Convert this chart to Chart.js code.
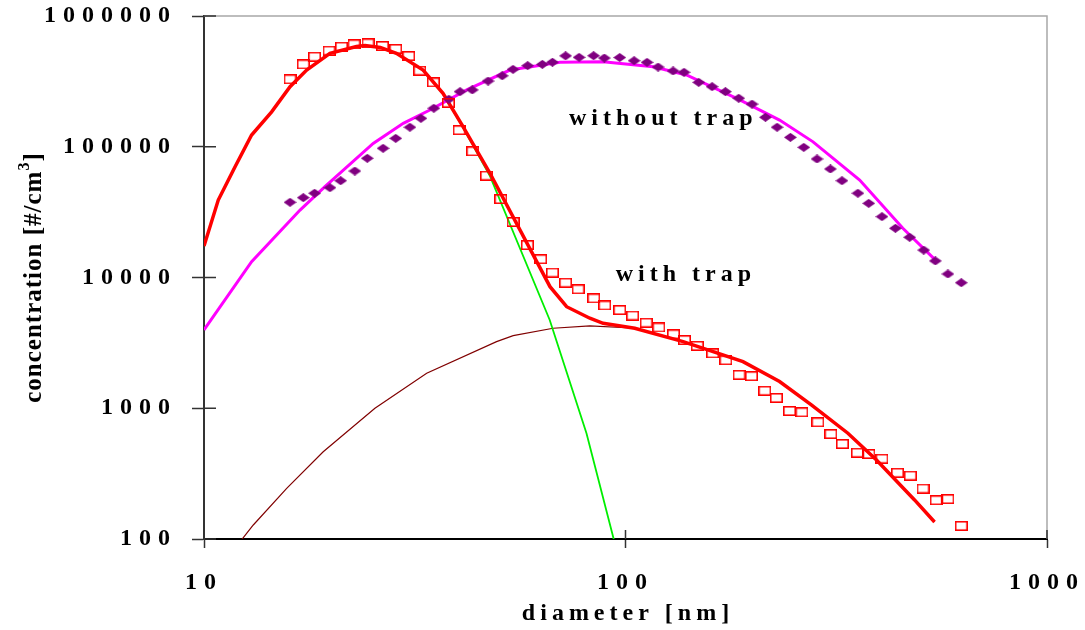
<!DOCTYPE html>
<html>
<head>
<meta charset="utf-8">
<script src="https://cdn.jsdelivr.net/npm/chart.js@4.4.1/dist/chart.umd.min.js"></script>
<style>
  body { margin: 0; background: #fff; }
  #wrap { width: 1085px; height: 630px; position: relative; }
</style>
</head>
<body>
<div id="wrap"><canvas id="myChart"></canvas></div>
<script>
// measured, with trap (open squares)
var sqX = [16.0, 17.2, 18.3, 19.8, 21.2, 22.7, 24.5, 26.5, 28.5, 30.6, 32.5, 35.0, 38.0, 40.3, 43.4,
  46.8, 50.6, 54.1, 58.5, 62.9, 67.1, 72.1, 77.2, 84.1, 89.3, 96.9, 104, 112, 120, 130,
  138, 148, 161, 173, 186, 199, 214, 228, 245, 262, 286, 307, 327, 355, 378, 406, 442, 474, 508, 546, 582, 626];
var sqY = [328000, 427000, 488000, 543000, 582000, 608000, 618000, 590000, 560000, 494000, 382000, 311000, 217000, 134000, 92300,
  60100, 39800, 26600, 17700, 13800, 10900, 9120, 8130, 6930, 6110, 5640, 5110, 4510, 4150, 3680,
  3320, 3000, 2630, 2330, 1800, 1760, 1360, 1200, 953, 931, 781, 635, 533, 457, 447, 411, 321, 305, 243, 198, 202, 126];

// measured, without trap (diamonds)
var dmX = [16.0, 17.2, 18.3, 19.9, 21.1, 22.8, 24.4, 26.6, 28.5, 30.8, 32.7, 35.1, 38.1, 40.5, 43.3,
  47.2, 51.0, 54.1, 58.6, 63.5, 67.1, 72.1, 77.6, 84.0, 89.1, 96.9, 104.8, 112.5, 119.5, 129.7,
  137.7, 149.2, 160.5, 172.6, 185.6, 199.6, 214.8, 228.9, 246.2, 264.8, 284.7, 306.3, 326.3, 356, 377.6,
  406, 436.8, 472.3, 510, 543.4, 582, 626];
var dmY = [37600, 40800, 44100, 48600, 55000, 65200, 81600, 97300, 116000, 141000, 165000, 197000, 231000, 264000, 272000,
  318000, 349000, 391000, 417000, 427000, 443000, 496000, 483000, 497000, 477000, 481000, 455000, 442000, 407000, 380000,
  371000, 311000, 288000, 264000, 235000, 212000, 168000, 141000, 118000, 99000, 80600, 67600, 55000, 44100, 36900,
  29200, 23800, 20300, 16200, 13400, 10640, 9120];

// fit, with trap (thick red)
var fitTrapX = [10, 10.81, 11.85, 12.97, 14.47, 16.0, 17.52, 19.9, 23.0, 24.1, 26.2, 28.6, 33.1, 36.9, 41.2, 47.7,
  66.2, 72.5, 82.3, 88.5, 105.2, 137, 190, 232, 276, 337, 394, 485, 541];
var fitTrapY = [17400, 39100, 70400, 123000, 185000, 288000, 386000, 518000, 585000, 594000, 575000, 518000, 386000, 256000, 142000, 62700,
  8510, 5980, 4880, 4460, 4090, 3230, 2270, 1600, 1060, 644, 402, 199, 135];

// fit, without trap (magenta)
var fitNoTrapX = [10, 12.97, 16.9, 19.36, 25.2, 29.7, 34.35, 42.0, 53.2, 69.9, 88.5, 116.3, 139.5, 186.7, 232, 278.6, 359.4, 455, 550];
var fitNoTrapY = [3970, 13200, 32800, 49500, 106000, 151000, 191000, 272000, 386000, 442000, 447000, 409000, 354000, 228000, 160000, 109000, 55700, 23800, 13100];

// first mode (green)
var mode1X = [10, 10.81, 11.85, 12.97, 14.47, 16.0, 17.52, 19.9, 23.0, 24.1, 26.2, 28.6, 33.1, 36.9, 41.2, 47.7, 66.1, 80.8, 94.3];
var mode1Y = [17400, 39100, 70400, 123000, 185000, 288000, 386000, 517000, 584000, 593000, 574000, 517000, 384000, 254000, 139600, 59700, 4730, 644, 93];

// second mode (dark red)
var mode2X = [12.06, 13.09, 15.71, 19.18, 25.44, 33.75, 49.44, 54.14, 67.33, 82.3, 106.2, 137, 190, 232, 276, 337, 394, 485, 541];
var mode2Y = [91.6, 128, 244, 465, 999, 1850, 3230, 3590, 4090, 4260, 4090, 3230, 2270, 1600, 1060, 644, 402, 199, 135];

var xTicks = [10, 100, 1000];
var yTicks = [100, 1000, 10000, 100000, 1000000];

var serif = "'Liberation Serif', 'Times New Roman', serif";

function pts(xs, ys) {
  return xs.map(function(x, i) { return { x: x, y: ys[i] }; });
}

// marker images
var sqImg = document.createElement('canvas');
sqImg.width = 13; sqImg.height = 10;
var c1 = sqImg.getContext('2d');
c1.strokeStyle = '#FF0000';
c1.lineWidth = 1.6;
c1.strokeRect(0.8, 0.8, 11.4, 8.4);

var dmImg = document.createElement('canvas');
dmImg.width = 13; dmImg.height = 9;
var c2 = dmImg.getContext('2d');
c2.fillStyle = '#800080';
c2.beginPath();
c2.moveTo(6.5, 0); c2.lineTo(13, 4.5); c2.lineTo(6.5, 9); c2.lineTo(0, 4.5);
c2.closePath();
c2.fill();

var decor = {
  id: 'decor',
  beforeDraw: function(chart) {
    chart.ctx.letterSpacing = '7px';
  },
  beforeDatasetsDraw: function(chart) {
    var ctx = chart.ctx, a = chart.chartArea;
    var xs = chart.scales.x, ys = chart.scales.y;
    ctx.save();
    // grey frame top and right
    ctx.strokeStyle = '#a8a8a8';
    ctx.lineWidth = 1.5;
    ctx.beginPath();
    ctx.moveTo(a.left, a.top); ctx.lineTo(a.right, a.top); ctx.lineTo(a.right, a.bottom);
    ctx.stroke();
    // inner half of the tick marks
    ctx.strokeStyle = '#333';
    ctx.lineWidth = 1.5;
    ctx.beginPath();
    yTicks.forEach(function(v) {
      var y = ys.getPixelForValue(v);
      ctx.moveTo(a.left, y); ctx.lineTo(a.left + 12, y);
    });
    xTicks.forEach(function(v) {
      var x = xs.getPixelForValue(v);
      ctx.moveTo(x, a.bottom); ctx.lineTo(x, a.bottom - 9);
    });
    ctx.stroke();
    ctx.restore();
  },
  afterDraw: function(chart) {
    var ctx = chart.ctx, a = chart.chartArea;
    var xs = chart.scales.x, ys = chart.scales.y;
    ctx.save();
    ctx.fillStyle = '#000';
    ctx.font = 'bold 24px ' + serif;
    ctx.letterSpacing = '5px';
    ctx.textBaseline = 'alphabetic';
    ctx.textAlign = 'center';
    ctx.fillText('diameter [nm]', (a.left + a.right) / 2 + 2.5, 620);
    ctx.textAlign = 'left';
    ctx.fillText('without trap', xs.getPixelForValue(73.4), ys.getPixelForValue(146700));
    ctx.fillText('with trap', xs.getPixelForValue(94.8), ys.getPixelForValue(9400));

    // y title with superscript
    ctx.letterSpacing = '1px';
    ctx.translate(41, (a.top + a.bottom) / 2);
    ctx.rotate(-Math.PI / 2);
    var t1 = 'concentration [#/cm', t2 = '3', t3 = ']';
    ctx.font = 'bold 25px ' + serif;
    var w1 = ctx.measureText(t1).width, w3 = ctx.measureText(t3).width;
    ctx.font = 'bold 16px ' + serif;
    var w2 = ctx.measureText(t2).width;
    var x0 = -(w1 + w2 + w3) / 2;
    ctx.font = 'bold 25px ' + serif;
    ctx.fillText(t1, x0, 0);
    ctx.fillText(t3, x0 + w1 + w2, 0);
    ctx.font = 'bold 16px ' + serif;
    ctx.fillText(t2, x0 + w1, -12);
    ctx.restore();
  }
};

var ctx = document.getElementById('myChart').getContext('2d');

var myChart = new Chart(ctx, {
  type: 'scatter',
  data: {
    datasets: [
      { label: 'with trap', data: pts(sqX, sqY), showLine: false, pointStyle: sqImg, pointRadius: 6, order: 0 },
      { label: 'without trap', data: pts(dmX, dmY), showLine: false, pointStyle: dmImg, pointRadius: 6, order: 1 },
      { label: 'fit with trap', data: pts(fitTrapX, fitTrapY), showLine: true, borderColor: '#FF0000', borderWidth: 3.5, pointRadius: 0, order: 2 },
      { label: 'fit without trap', data: pts(fitNoTrapX, fitNoTrapY), showLine: true, borderColor: '#FF00FF', borderWidth: 3, pointRadius: 0, order: 3 },
      { label: 'mode 1', data: pts(mode1X, mode1Y), showLine: true, borderColor: '#00EE00', borderWidth: 1.8, pointRadius: 0, order: 4 },
      { label: 'mode 2', data: pts(mode2X, mode2Y), showLine: true, borderColor: '#800000', borderWidth: 1.2, pointRadius: 0, order: 5 }
    ]
  },
  options: {
    responsive: true,
    maintainAspectRatio: false,
    animation: false,
    layout: { padding: { top: 16, right: 38, left: 0, bottom: 0 } },
    plugins: { legend: { display: false }, tooltip: { enabled: false } },
    scales: {
      x: {
        type: 'logarithmic',
        min: 10,
        max: 1000,
        afterBuildTicks: function(scale) { scale.ticks = xTicks.map(function(v) { return { value: v }; }); },
        afterFit: function(scale) {
          scale.height = 91;
          scale.paddingLeft = 0;
          scale.paddingRight = 0;
        },
        ticks: {
          autoSkip: false, maxRotation: 0, padding: 20,
          color: '#000',
          font: { family: serif, size: 24, weight: 'bold' },
          callback: function(v) { return String(v); }
        },
        grid: { drawOnChartArea: false, tickLength: 9, tickColor: '#333', tickWidth: 1.5 },
        border: { color: '#000', width: 2 }
      },
      y: {
        type: 'logarithmic',
        min: 100,
        max: 1000000,
        afterBuildTicks: function(scale) { scale.ticks = yTicks.map(function(v) { return { value: v }; }); },
        afterFit: function(scale) {
          scale.width = 204;
          scale.paddingTop = 0;
          scale.paddingBottom = 0;
        },
        ticks: {
          autoSkip: false, padding: 15,
          color: '#000',
          font: { family: serif, size: 24, weight: 'bold' },
          callback: function(v) { return String(v); }
        },
        grid: { drawOnChartArea: false, tickLength: 12, tickColor: '#333', tickWidth: 1.5 },
        border: { color: '#333', width: 2 }
      }
    }
  },
  plugins: [decor]
});
</script>
</body>
</html>
